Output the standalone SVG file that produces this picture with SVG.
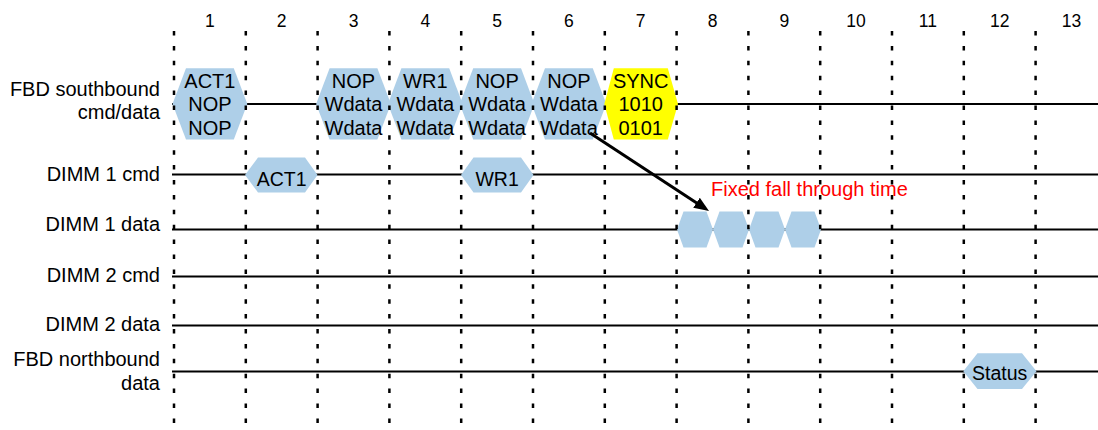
<svg xmlns="http://www.w3.org/2000/svg" width="1098" height="430" viewBox="0 0 1098 430">
<style>
text{font-family:"Liberation Sans",Arial,sans-serif;fill:#000}
.num{font-size:17.5px;text-anchor:middle}
.lbl{font-size:20px;text-anchor:end}
.ht{font-size:20px;text-anchor:middle}
.st{font-size:19.5px;text-anchor:middle}
.grid line{stroke:#000;stroke-width:2.5;stroke-dasharray:4.5 10.4}
.sig line{stroke:#000;stroke-width:2.2}
.hex{fill:#AECFE8;stroke:none}
.sync{fill:#FFFF00;stroke:none}
.red{font-size:20px;fill:#FF0000}
</style>
<defs>
<marker id="ah" markerUnits="userSpaceOnUse" markerWidth="16" markerHeight="13" refX="3" refY="6" orient="auto">
<path d="M0,0 L15,6 L0,12 z" fill="#000"/>
</marker>
</defs>
<rect width="1098" height="430" fill="#fff"/>
<g id="column-numbers">
<text class="num" x="209.9" y="27">1</text>
<text class="num" x="281.7" y="27">2</text>
<text class="num" x="353.5" y="27">3</text>
<text class="num" x="425.3" y="27">4</text>
<text class="num" x="497.1" y="27">5</text>
<text class="num" x="568.9" y="27">6</text>
<text class="num" x="640.7" y="27">7</text>
<text class="num" x="712.5" y="27">8</text>
<text class="num" x="784.3" y="27">9</text>
<text class="num" x="856.1" y="27">10</text>
<text class="num" x="927.9" y="27">11</text>
<text class="num" x="999.7" y="27">12</text>
<text class="num" x="1071.5" y="27">13</text>
</g>
<g id="row-labels">
<text class="lbl" x="160" y="96">FBD southbound</text>
<text class="lbl" x="160" y="119">cmd/data</text>
<text class="lbl" x="160" y="181">DIMM 1 cmd</text>
<text class="lbl" x="160" y="231">DIMM 1 data</text>
<text class="lbl" x="160" y="282">DIMM 2 cmd</text>
<text class="lbl" x="160" y="331">DIMM 2 data</text>
<text class="lbl" x="160" y="366">FBD northbound</text>
<text class="lbl" x="160" y="390">data</text>
</g>
<g id="signal-lines" class="sig">
<line x1="172" y1="104" x2="1098" y2="104"/>
<line x1="172" y1="174.5" x2="1098" y2="174.5"/>
<line x1="172" y1="229.5" x2="1098" y2="229.5"/>
<line x1="172" y1="276.5" x2="1098" y2="276.5"/>
<line x1="172" y1="325.5" x2="1098" y2="325.5"/>
<line x1="172" y1="371.5" x2="1098" y2="371.5"/>
</g>
<g id="sb-1">
<polygon class="hex" points="172.5,104 186,68.3 233.8,68.3 247.3,104 233.8,139.5 186,139.5"/>
<text class="ht" x="209.9" y="87.5">ACT1</text><text class="ht" x="209.9" y="111">NOP</text><text class="ht" x="209.9" y="134.5">NOP</text>
</g>
<g id="sb-3">
<polygon class="hex" points="316.1,104 329.6,68.3 377.4,68.3 390.9,104 377.4,139.5 329.6,139.5"/>
<text class="ht" x="353.5" y="87.5">NOP</text><text class="ht" x="353.5" y="111">Wdata</text><text class="ht" x="353.5" y="134.5">Wdata</text>
</g>
<g id="sb-4">
<polygon class="hex" points="387.9,104 401.4,68.3 449.2,68.3 462.7,104 449.2,139.5 401.4,139.5"/>
<text class="ht" x="425.3" y="87.5">WR1</text><text class="ht" x="425.3" y="111">Wdata</text><text class="ht" x="425.3" y="134.5">Wdata</text>
</g>
<g id="sb-5">
<polygon class="hex" points="459.7,104 473.2,68.3 521,68.3 534.5,104 521,139.5 473.2,139.5"/>
<text class="ht" x="497.1" y="87.5">NOP</text><text class="ht" x="497.1" y="111">Wdata</text><text class="ht" x="497.1" y="134.5">Wdata</text>
</g>
<g id="sb-6">
<polygon class="hex" points="531.5,104 545,68.3 592.8,68.3 606.3,104 592.8,139.5 545,139.5"/>
<text class="ht" x="568.9" y="87.5">NOP</text><text class="ht" x="568.9" y="111">Wdata</text><text class="ht" x="568.9" y="134.5">Wdata</text>
</g>
<g id="sb-7-sync">
<polygon class="sync" points="604.3,104 613.8,68.3 667.8,68.3 678,104 667.8,139.5 613.8,139.5"/>
<text class="ht" x="640.7" y="87.5">SYNC</text><text class="ht" x="640.7" y="111">1010</text><text class="ht" x="640.7" y="134.5">0101</text>
</g>
<g id="d1cmd-act1">
<polygon class="hex" points="245,175 258,157.5 305,157.5 317.5,175 305,192.5 258,192.5"/>
<text class="st" x="281.7" y="186">ACT1</text>
</g>
<g id="d1cmd-wr1">
<polygon class="hex" points="461,175 473.5,157.5 521,157.5 533.5,175 521,192.5 473.5,192.5"/>
<text class="st" x="497.1" y="186">WR1</text>
</g>
<g id="d1data-1"><polygon class="hex" points="677,229.5 683.5,211.5 706.5,211.5 713,229.5 706.5,247.5 683.5,247.5"/></g>
<g id="d1data-2"><polygon class="hex" points="713,229.5 719.5,211.5 742.5,211.5 749,229.5 742.5,247.5 719.5,247.5"/></g>
<g id="d1data-3"><polygon class="hex" points="749,229.5 755.5,211.5 778.5,211.5 785,229.5 778.5,247.5 755.5,247.5"/></g>
<g id="d1data-4"><polygon class="hex" points="785,229.5 791.5,211.5 814.5,211.5 821,229.5 814.5,247.5 791.5,247.5"/></g>
<g id="nb-status">
<polygon class="hex" points="963.3,371.2 977.5,353.3 1022,353.3 1036.5,371.2 1022,389 977.5,389"/>
<text class="st" x="999.7" y="380">Status</text>
</g>
<g id="grid" class="grid">
<line x1="174" y1="31" x2="174" y2="423"/>
<line x1="245.8" y1="31" x2="245.8" y2="423"/>
<line x1="317.6" y1="31" x2="317.6" y2="423"/>
<line x1="389.4" y1="31" x2="389.4" y2="423"/>
<line x1="461.2" y1="31" x2="461.2" y2="423"/>
<line x1="533" y1="31" x2="533" y2="423"/>
<line x1="604.8" y1="31" x2="604.8" y2="423"/>
<line x1="676.6" y1="31" x2="676.6" y2="423"/>
<line x1="748.4" y1="31" x2="748.4" y2="423"/>
<line x1="820.2" y1="31" x2="820.2" y2="423"/>
<line x1="892" y1="31" x2="892" y2="423"/>
<line x1="963.8" y1="31" x2="963.8" y2="423"/>
<line x1="1035.6" y1="31" x2="1035.6" y2="423"/>
</g>
<g id="connectors">
<line x1="590" y1="133" x2="699" y2="204.4" stroke="#000" stroke-width="3" marker-end="url(#ah)"/>
</g>
<g id="annotation">
<text class="red" x="711" y="196">Fixed fall through time</text>
</g>
</svg>
